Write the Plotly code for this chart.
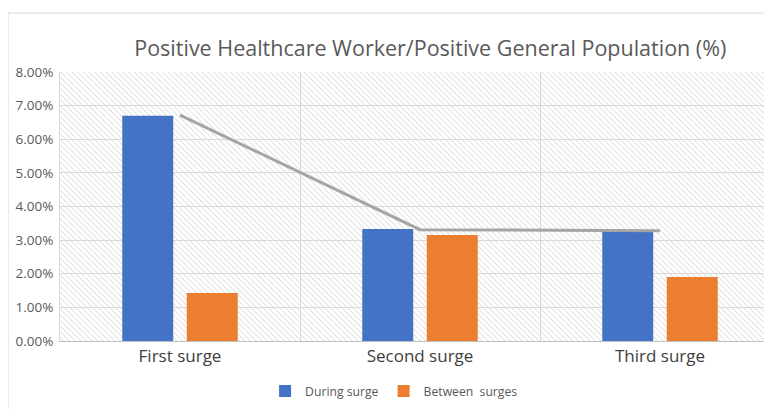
import base64
import plotly.graph_objects as go

categories = ["First surge", "Second surge", "Third surge"]
during_surge = [0.0670, 0.0333, 0.0327]
between_surges = [0.0143, 0.0315, 0.0190]
trend_line = [0.0672, 0.0331, 0.0328]
y_ticks = [0.00, 0.01, 0.02, 0.03, 0.04, 0.05, 0.06, 0.07, 0.08]

svg = ('<svg xmlns="http://www.w3.org/2000/svg" width="720" height="269">'
       '<defs><pattern id="p" width="4" height="4" patternUnits="userSpaceOnUse" '
       'patternTransform="rotate(-45)"><line x1="0" y1="0" x2="0" y2="4" '
       'stroke="#cccccc" stroke-width="1.2"/></pattern></defs>'
       '<rect width="100%" height="100%" fill="white"/>'
       '<rect width="100%" height="100%" fill="url(#p)"/></svg>')
svg_uri = "data:image/svg+xml;base64," + base64.b64encode(svg.encode()).decode()

fig = go.Figure()
fig.add_trace(go.Bar(x=categories, y=during_surge, name="During surge",
                     marker=dict(color="#4472C4", line=dict(width=0))))
fig.add_trace(go.Bar(x=categories, y=between_surges, name="Between  surges",
                     marker=dict(color="#ED7D31", line=dict(width=0))))
fig.add_trace(go.Scatter(x=categories, y=trend_line, mode="lines",
                         line=dict(color="#A5A5A5", width=3),
                         showlegend=False, hoverinfo="skip"))

fig.update_layout(
    width=772, height=409,
    margin=dict(l=52, r=0, t=64, b=76),
    paper_bgcolor="white",
    plot_bgcolor="rgba(0,0,0,0)",
    barmode="group",
    bargap=0.4625,
    bargroupgap=0.21,
    font=dict(family="Open Sans, Noto Sans, sans-serif", color="#595959"),
    title=dict(text="Positive Healthcare Worker/Positive General Population (%)",
               x=0.547, xanchor="center", y=0.902, yanchor="middle",
               font=dict(size=21.5, color="#595959")),
    legend=dict(orientation="h", x=0.464, xanchor="center", y=-0.186,
                yanchor="middle", font=dict(size=12.2, color="#595959"),
                itemwidth=30, bgcolor="rgba(0,0,0,0)"),
    images=[dict(source=svg_uri, xref="paper", yref="paper", x=0, y=1,
                 sizex=1, sizey=1, sizing="stretch", xanchor="left",
                 yanchor="top", layer="below")],
    shapes=[dict(type="rect", xref="paper", yref="paper",
                 x0=-0.0722, x1=1.2, y0=-0.3, y1=1.219,
                 line=dict(color="#D9D9D9", width=1), layer="below")],
)
fig.update_xaxes(range=[-0.5, 2.5], tickson="boundaries", showgrid=True,
                 gridcolor="#D9D9D9", gridwidth=1, ticks="",
                 showline=True, linecolor="#BFBFBF", linewidth=1,
                 tickfont=dict(size=17, color="#404040"), fixedrange=True)
fig.update_yaxes(range=[0, 0.08], tickvals=y_ticks, tickformat=".2%",
                 showgrid=True, gridcolor="#D9D9D9", gridwidth=1,
                 zeroline=False, showline=True, linecolor="#D9D9D9",
                 tickfont=dict(size=13.5, color="#595959"), ticks="",
                 ticklabelstandoff=3)

fig.write_html("out.html")
